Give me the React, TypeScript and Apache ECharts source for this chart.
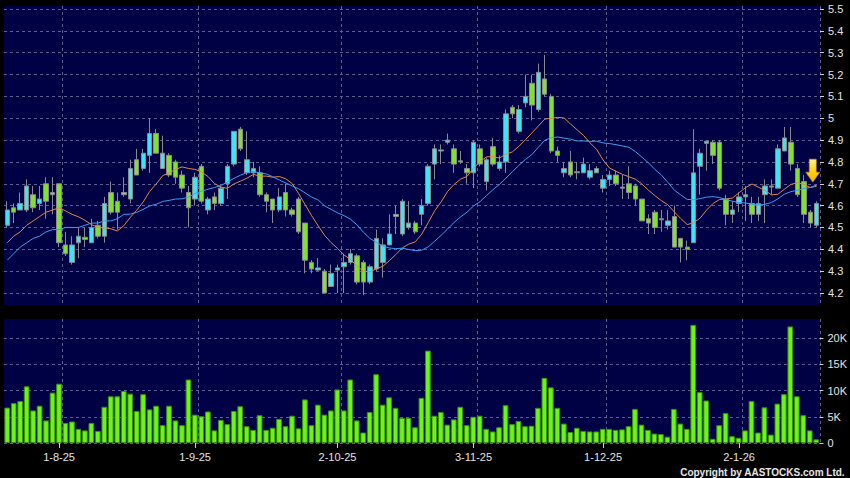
import React, { useEffect, useRef } from "react";
import * as echarts from "echarts";

const categories = [
  "22-7-25","23-7-25","24-7-25","25-7-25","28-7-25","29-7-25","30-7-25","31-7-25",
  "1-8-25","4-8-25","5-8-25","6-8-25","7-8-25","8-8-25","11-8-25","12-8-25","13-8-25","14-8-25","15-8-25","18-8-25","19-8-25","20-8-25","21-8-25","22-8-25","25-8-25","26-8-25","27-8-25","28-8-25","29-8-25",
  "1-9-25","2-9-25","3-9-25","4-9-25","5-9-25","8-9-25","9-9-25","10-9-25","11-9-25","12-9-25","15-9-25","16-9-25","17-9-25","18-9-25","19-9-25","22-9-25","23-9-25","24-9-25","25-9-25","26-9-25","29-9-25","30-9-25",
  "2-10-25","3-10-25","6-10-25","7-10-25","8-10-25","9-10-25","10-10-25","13-10-25","14-10-25","15-10-25","16-10-25","17-10-25","20-10-25","21-10-25","22-10-25","23-10-25","24-10-25","27-10-25","28-10-25","30-10-25","31-10-25",
  "3-11-25","4-11-25","5-11-25","6-11-25","7-11-25","10-11-25","11-11-25","12-11-25","13-11-25","14-11-25","17-11-25","18-11-25","19-11-25","20-11-25","21-11-25","24-11-25","25-11-25","26-11-25","27-11-25","28-11-25",
  "1-12-25","2-12-25","3-12-25","4-12-25","5-12-25","8-12-25","9-12-25","10-12-25","11-12-25","12-12-25","15-12-25","16-12-25","17-12-25","18-12-25","19-12-25","22-12-25","23-12-25","24-12-25","29-12-25","30-12-25","31-12-25",
  "2-1-26","5-1-26","6-1-26","7-1-26","8-1-26","9-1-26","12-1-26","13-1-26","14-1-26","15-1-26","16-1-26","19-1-26","20-1-26",
];

const tickLabels = ["1-8-25", "1-9-25", "2-10-25", "3-11-25", "1-12-25", "2-1-26"];

const opens = [
  4.51,4.59,4.58,4.58,4.65,4.61,4.70,4.65,4.70,4.42,
  4.34,4.43,4.455,4.43,4.51,4.46,4.66,4.62,4.65,4.63,
  4.81,4.77,4.83,4.93,4.77,4.83,4.80,4.74,4.66,4.63,
  4.78,4.58,4.64,4.61,4.70,4.79,4.95,4.75,4.75,4.75,
  4.65,4.63,4.58,4.66,4.58,4.63,4.52,4.34,4.305,4.30,
  4.23,4.305,4.32,4.34,4.37,4.34,4.25,4.31,4.34,4.42,
  4.55,4.47,4.50,4.52,4.56,4.61,4.79,4.85,4.89,4.86,
  4.80,4.77,4.75,4.86,4.71,4.87,4.77,4.80,5.05,4.94,
  5.07,5.16,5.04,5.18,5.10,4.85,4.75,4.80,4.75,4.75,
  4.73,4.75,4.68,4.72,4.74,4.68,4.70,4.69,4.63,4.54,
  4.57,4.535,4.51,4.55,4.45,4.41,4.43,4.78,4.885,4.89,
  4.89,4.63,4.56,4.61,4.64,4.61,4.56,4.65,4.69,4.68,
  4.85,4.89,4.77,4.71,4.57,4.51,
];
const closes = [
  4.58,4.57,4.61,4.69,4.59,4.63,4.62,4.66,4.43,4.38,
  4.42,4.46,4.445,4.50,4.46,4.61,4.57,4.57,4.66,4.77,
  4.74,4.84,4.93,4.84,4.84,4.74,4.73,4.68,4.59,4.73,
  4.62,4.63,4.61,4.68,4.78,4.94,4.86,4.81,4.77,4.65,
  4.62,4.58,4.64,4.58,4.56,4.48,4.35,4.31,4.315,4.20,
  4.29,4.315,4.34,4.38,4.25,4.25,4.32,4.45,4.42,4.47,
  4.56,4.62,4.52,4.48,4.60,4.78,4.86,4.855,4.90,4.79,
  4.805,4.75,4.89,4.79,4.81,4.79,4.80,5.02,5.02,5.04,
  5.10,5.06,5.21,5.11,4.85,4.83,4.77,4.74,4.755,4.79,
  4.76,4.77,4.72,4.74,4.70,4.685,4.66,4.63,4.53,4.52,
  4.50,4.54,4.53,4.41,4.41,4.40,4.75,4.84,4.895,4.83,
  4.68,4.56,4.58,4.64,4.65,4.56,4.61,4.69,4.685,4.86,
  4.91,4.79,4.65,4.56,4.52,4.61,
];
const lows = [
  4.50,4.52,4.58,4.57,4.57,4.58,4.54,4.56,4.41,4.37,
  4.33,4.36,4.41,4.43,4.45,4.43,4.56,4.49,4.64,4.61,
  4.74,4.76,4.75,4.84,4.77,4.73,4.70,4.66,4.50,4.60,
  4.61,4.56,4.58,4.60,4.63,4.78,4.85,4.74,4.73,4.64,
  4.57,4.52,4.57,4.55,4.55,4.47,4.29,4.29,4.30,4.20,
  4.23,4.20,4.20,4.33,4.24,4.19,4.24,4.30,4.27,4.42,
  4.47,4.46,4.49,4.47,4.51,4.60,4.72,4.79,4.88,4.75,
  4.79,4.70,4.68,4.78,4.67,4.78,4.76,4.75,5.00,4.93,
  5.05,4.99,5.03,5.10,4.84,4.80,4.73,4.73,4.72,4.75,
  4.72,4.75,4.66,4.69,4.69,4.63,4.63,4.60,4.53,4.47,
  4.47,4.48,4.49,4.41,4.34,4.35,4.43,4.65,4.76,4.79,
  4.67,4.51,4.52,4.57,4.53,4.52,4.53,4.52,4.65,4.68,
  4.85,4.76,4.64,4.52,4.50,4.50,
];
const highs = [
  4.62,4.61,4.66,4.72,4.69,4.69,4.73,4.73,4.70,4.48,
  4.46,4.50,4.50,4.54,4.53,4.64,4.71,4.66,4.73,4.81,
  4.86,4.86,5.00,4.95,4.92,4.84,4.81,4.76,4.69,4.75,
  4.79,4.64,4.66,4.69,4.79,4.94,4.96,4.94,4.80,4.78,
  4.66,4.63,4.68,4.70,4.59,4.64,4.52,4.35,4.36,4.31,
  4.33,4.33,4.38,4.40,4.38,4.35,4.33,4.49,4.45,4.56,
  4.60,4.63,4.62,4.53,4.63,4.79,4.88,4.88,4.93,4.88,
  4.85,4.79,4.90,4.88,4.82,4.91,4.83,5.04,5.06,5.06,
  5.20,5.20,5.25,5.29,5.11,4.87,4.80,4.85,4.80,4.82,
  4.79,4.78,4.74,4.76,4.76,4.74,4.78,4.70,4.63,4.56,
  4.58,4.58,4.58,4.60,4.45,4.44,4.95,4.86,4.90,4.90,
  4.90,4.65,4.62,4.66,4.69,4.64,4.64,4.72,4.72,4.88,
  4.96,4.96,4.79,4.74,4.58,4.62,
];

const volumes = [
  6750,7600,8000,10800,6200,7100,4300,9600,11300,3800,
  4100,2700,2400,3800,2300,6900,8900,8900,9900,9400,
  6100,9300,6400,7100,3400,7100,4300,3400,12100,5400,
  5100,6000,2400,4400,3600,6100,7000,3200,2500,5300,
  2500,2900,4600,3200,5200,2800,8300,3400,7300,5400,
  6200,10200,6200,12100,4300,2000,5900,13100,7300,8700,
  6700,4800,4800,3000,8600,17600,5200,5900,3500,4500,
  6900,3400,5000,5200,2700,2200,3000,7200,3600,4200,
  3200,3300,6700,12400,10600,6700,3700,2100,2900,2300,
  2200,2200,2700,2700,2500,2600,3200,6500,3500,2500,
  1800,1700,1200,6500,3700,2700,22500,9700,8100,800,
  3400,5700,1300,1000,2400,8000,2000,6800,1600,7500,
  9300,22200,8900,5300,2400,700,
];

// Moving-average values at the left edge (their windows start before the chart)
const ma10Lead = [4.43, 4.46, 4.48, 4.51, 4.53, 4.55, 4.57, 4.58, 4.59];
const ma20Lead = [4.35, 4.38, 4.41, 4.43, 4.45, 4.46, 4.48, 4.49, 4.49, 4.50, 4.50, 4.50, 4.51, 4.52, 4.52, 4.53, 4.53, 4.54, 4.56];

const arrowLevel = 4.76;

function movingAverage(period: number, lead: number[]) {
  return closes.map((_, i) => {
    if (i < period - 1) return lead[i];
    let s = 0;
    for (let k = i - period + 1; k <= i; k++) s += closes[k];
    return +(s / period).toFixed(3);
  });
}

const FONT = "'Liberation Sans', Arial, sans-serif";
const NAVY = "#000044";
const TEXT = "#e4e4e4";
const dashed = { show: true, lineStyle: { color: "#5d5d8e", type: [3, 3] as any, width: 1 } };

function buildOption() {
  const candleData = opens.map((o, i) => [o, closes[i], lows[i], highs[i]]);
  const gridLineAt = (i: number) => i > 0 && tickLabels.includes(categories[i - 1]);
  const labelAt = (i: number) => tickLabels.includes(categories[i]);

  return {
    animation: false,
    backgroundColor: "#000000",
    textStyle: { fontFamily: FONT },
    title: {
      text: "Copyright by AASTOCKS.com Ltd.",
      right: 5,
      bottom: 1,
      padding: 0,
      textStyle: { color: "#e6e6e6", fontSize: 10, fontWeight: "bold", fontFamily: FONT },
    },
    grid: [
      { left: 4, right: 30, top: 6, height: 299, show: true, backgroundColor: NAVY, borderWidth: 0 },
      { left: 4, right: 30, top: 9, height: 284 },
      { left: 4, right: 30, top: 319, height: 124, show: true, backgroundColor: NAVY, borderWidth: 0 },
      { left: 4, right: 30, top: 338, height: 105 },
    ],
    xAxis: [
      {
        gridIndex: 0, type: "category", data: categories, boundaryGap: true,
        axisLine: { show: false }, axisTick: { show: false }, axisLabel: { show: false },
        splitLine: { ...dashed, interval: gridLineAt },
      },
      { gridIndex: 1, type: "category", data: categories, boundaryGap: true, show: false },
      {
        gridIndex: 2, type: "category", data: categories, boundaryGap: true,
        axisLine: { show: false },
        axisTick: { show: true, alignWithLabel: true, interval: labelAt, length: 5, lineStyle: { color: "#cfcfcf" } },
        axisLabel: { interval: labelAt, color: TEXT, fontSize: 11, margin: 8, fontFamily: FONT },
        splitLine: { ...dashed, interval: gridLineAt },
      },
      { gridIndex: 3, type: "category", data: categories, boundaryGap: true, show: false },
    ],
    yAxis: [
      { gridIndex: 0, type: "value", show: false, min: 0, max: 1 },
      {
        gridIndex: 1, type: "value", position: "right", min: 4.2, max: 5.5, interval: 0.1,
        axisLine: { show: false },
        axisTick: { show: true, length: 4, lineStyle: { color: "#cfcfcf" } },
        axisLabel: { color: TEXT, fontSize: 11, margin: 8, fontFamily: FONT, formatter: (v: number) => String(Math.round(v * 10) / 10) },
        splitLine: dashed,
      },
      { gridIndex: 2, type: "value", show: false, min: 0, max: 1 },
      {
        gridIndex: 3, type: "value", position: "right", min: 0, max: 20000, interval: 5000,
        axisLine: { show: false },
        axisTick: { show: true, length: 4, lineStyle: { color: "#cfcfcf" } },
        axisLabel: { color: TEXT, fontSize: 11, margin: 8, fontFamily: FONT, formatter: (v: number) => (v === 0 ? "0" : v / 1000 + "K") },
        splitLine: dashed,
      },
    ],
    series: [
      {
        type: "candlestick",
        xAxisIndex: 1, yAxisIndex: 1,
        data: candleData,
        clip: false,
        barWidth: "76%",
        itemStyle: {
          color: "#3fe3f2",
          color0: "#7fe22c",
          borderColor: "#8a8a8a",
          borderColor0: "#8a8a8a",
          borderWidth: 1,
        },
        markPoint: {
          symbol: "path://M3.5,0 L10.5,0 L10.5,13 L14,13 L7,23 L0,13 L3.5,13 Z",
          symbolSize: [14, 23],
          symbolOffset: [-4, 0],
          label: { show: false },
          itemStyle: {
            color: new echarts.graphic.LinearGradient(0, 0, 0, 1, [
              { offset: 0, color: "#fff38a" },
              { offset: 0.5, color: "#ffd21a" },
              { offset: 1, color: "#f0b400" },
            ]),
            borderColor: "#c98a00",
            borderWidth: 0.6,
          },
          data: [{ coord: [categories[categories.length - 1], arrowLevel] }],
        },
      },
      {
        type: "line", name: "MA10", xAxisIndex: 1, yAxisIndex: 1,
        data: movingAverage(10, ma10Lead), symbol: "none", showSymbol: false,
        lineStyle: { color: "#e0874c", width: 1 },
      },
      {
        type: "line", name: "MA20", xAxisIndex: 1, yAxisIndex: 1,
        data: movingAverage(20, ma20Lead), symbol: "none", showSymbol: false,
        lineStyle: { color: "#3c9ff0", width: 1 },
      },
      {
        type: "bar",
        xAxisIndex: 3, yAxisIndex: 3,
        data: volumes,
        barWidth: "88%",
        clip: false,
        itemStyle: { color: "#6cf512", borderColor: "#3b8f12", borderWidth: 1 },
      },
    ],
  };
}

export default function App() {
  const ref = useRef<HTMLDivElement>(null);
  useEffect(() => {
    document.body.style.margin = "0";
    document.body.style.background = "#000";
    const chart = echarts.init(ref.current!, undefined, { renderer: "svg" });
    chart.setOption(buildOption() as any);
    return () => chart.dispose();
  }, []);
  return <div ref={ref} style={{ width: 850, height: 478 }} />;
}
